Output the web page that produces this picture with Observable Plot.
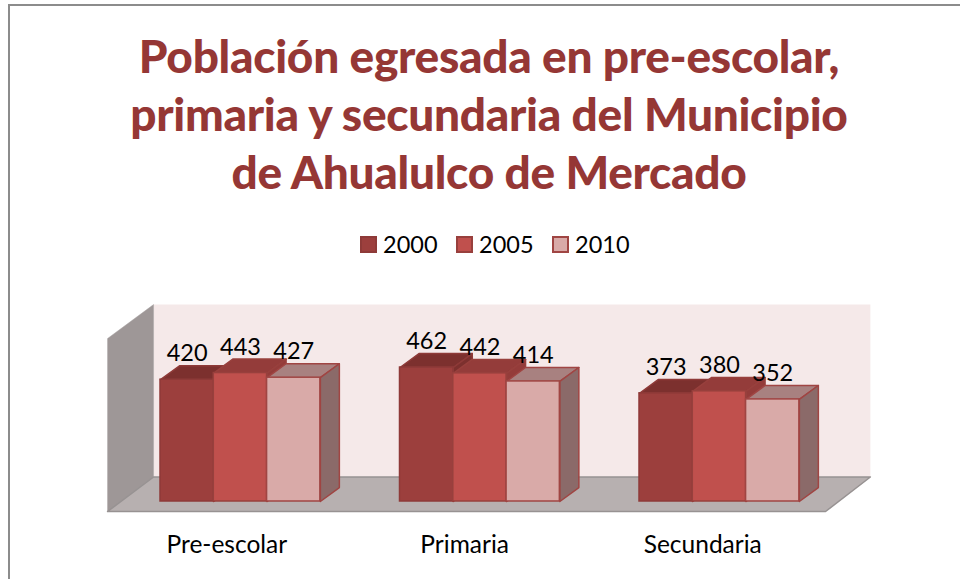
<!DOCTYPE html>
<html><head><meta charset="utf-8">
<script src="https://cdn.jsdelivr.net/npm/d3@7"></script>
<script src="https://cdn.jsdelivr.net/npm/@observablehq/plot@0.6"></script>
<style>
html,body{margin:0;padding:0;width:960px;height:579px;overflow:hidden;background:#fff;font-family:Lato,sans-serif}
#frame{position:absolute;left:8px;top:4px;width:1000px;height:1000px;border:2px solid #8c8c8c;box-sizing:border-box}
#title{position:absolute;left:0;top:27px;width:978px;text-align:center;margin:0;font-size:46px;line-height:58px;font-weight:900;color:#953735;letter-spacing:-0.3px}
#legend{position:absolute;top:225px;left:0;width:960px;height:38px;font-size:23.5px;color:#000}
#legend span{position:absolute;top:0;line-height:38px}
#legend i{position:absolute;top:11px;width:13px;height:13px;border:2px solid}
#chart{position:absolute;left:0;top:260px}
</style></head>
<body>
<div id="frame"></div>
<h1 id="title">Población egresada en pre-escolar,<br>primaria y secundaria del Municipio<br>de Ahualulco de Mercado</h1>
<div id="legend"></div>
<div id="chart"></div>
<script>
const categories = ["Pre-escolar", "Primaria", "Secundaria"];
const years = ["2000", "2005", "2010"];
const values2000 = [420, 462, 373];
const values2005 = [443, 442, 380];
const values2010 = [427, 414, 352];
const seriesValues = [values2000, values2005, values2010];
const categoryTicks = [0.277, 1.27, 2.264];

const frontColors = ["#9c3f3d", "#c0504d", "#d9aaa8"];
const topColors = ["#7c302e", "#943c3a", "#a88180"];
const sideColors = ["#7c302e", "#943c3a", "#8b6a69"];
const edgeColors = ["#8e3a38", "#98403d", "#a04543"];

const barWidth = 0.2225, depthX = 0.0793, depthY = 48;
const floorLeft = -0.221, floorRight = 2.777, floorFront = -34.5;
const wallLeft = -0.029, wallRight = 2.964, wallBottom = 84.5, wallTop = 679, sideTop = 562;

const poly = (pts, fill, stroke, strokeWidth) => Plot.line([...pts, pts[0]], {
  x: "0", y: "1", fill, stroke, strokeWidth, curve: "linear", strokeLinejoin: "round"
});

const barMarks = categories.flatMap((c, i) => years.flatMap((y, j) => {
  const v = seriesValues[j][i];
  const x1 = i + j * barWidth, x2 = x1 + barWidth;
  return [
    poly([[x1, v], [x2, v], [x2 + depthX, v + depthY], [x1 + depthX, v + depthY]], topColors[j], edgeColors[j], 1.5),
    poly([[x2, 0], [x2 + depthX, depthY], [x2 + depthX, v + depthY], [x2, v]], sideColors[j], edgeColors[j], 1.5),
    Plot.rect([{x1, x2, y1: 0, y2: v}], {x1: "x1", x2: "x2", y1: "y1", y2: "y2", fill: frontColors[j], stroke: edgeColors[j], strokeWidth: 1.5})
  ];
}));

const labels = categories.flatMap((c, i) => years.map((y, j) => ({
  x: i + (j + 0.5) * barWidth, v: seriesValues[j][i]
})));

const plot = Plot.plot({
  width: 960, height: 319,
  marginLeft: 0, marginRight: 0, marginTop: 0, marginBottom: 46,
  style: {background: "transparent", fontFamily: "Lato, sans-serif", overflow: "visible"},
  x: {domain: [0, 3], range: [160, 878.5], axis: null},
  y: {domain: [0, 800], range: [241, 9], axis: null},
  marks: [
    poly([[wallLeft, wallBottom], [wallRight, wallBottom], [wallRight, wallTop], [wallLeft, wallTop]], "#f5e9e9", "none", 0),
    poly([[floorLeft, floorFront], [wallLeft, wallBottom], [wallLeft, wallTop], [floorLeft, sideTop]], "#9e9797", "#a8a2a2", 0.5),
    poly([[floorLeft, floorFront], [floorRight, floorFront], [wallRight, wallBottom], [wallLeft, wallBottom]], "#b7b0b0", "#979292", 1.5),
    ...barMarks,
    Plot.text(labels, {x: "x", y: "v", text: "v", dy: -26, fontSize: 23.5, fill: "#000", textAnchor: "middle", lineAnchor: "middle"}),
    Plot.axisX({anchor: "bottom", ticks: categoryTicks, tickSize: 0, tickPadding: 2, fontSize: 24.5, tickFormat: d => categories[categoryTicks.indexOf(d)], fill: "#000", label: null})
  ]
});
document.getElementById("chart").append(plot);

const legendX = [360, 456, 552];
const legend = document.getElementById("legend");
years.forEach((y, j) => {
  const sw = document.createElement("i");
  sw.style.left = legendX[j] + "px";
  sw.style.background = frontColors[j];
  sw.style.borderColor = edgeColors[j];
  const t = document.createElement("span");
  t.style.left = (legendX[j] + 23) + "px";
  t.textContent = y;
  legend.append(sw, t);
});
</script>
</body></html>
